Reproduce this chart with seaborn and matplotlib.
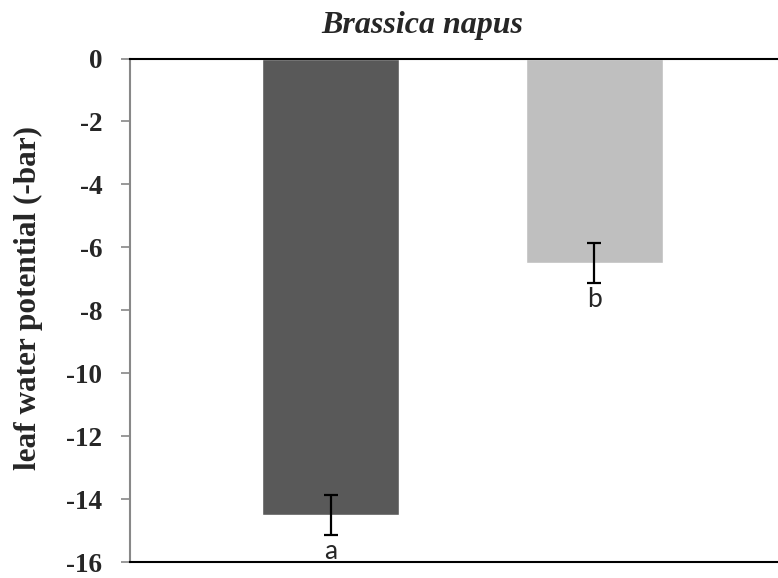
import matplotlib
matplotlib.use("Agg")
import matplotlib.pyplot as plt
import seaborn as sns
import pandas as pd

# Leaf water potential of Brassica napus under two conditions
conditions = ["condition 1", "condition 2"]
potential = [-14.5, -6.5]          # mean leaf water potential (-bar)
std_err = [0.63, 0.64]             # error bar half-lengths
letters = ["a", "b"]               # significance groups
bar_colors = ["#595959", "#bfbfbf"]
y_ticks = [0, -2, -4, -6, -8, -10, -12, -14, -16]

df = pd.DataFrame({"condition": conditions, "potential": potential})

sns.set_theme(style="white")
plt.rcParams["font.family"] = ["Liberation Serif", "DejaVu Serif"]

W, H = 778, 578
fig = plt.figure(figsize=(W / 100, H / 100), dpi=100)
ax = fig.add_axes([129.5 / W, (H - 562) / H, (W - 129.5) / W, (562 - 58.5) / H])

sns.barplot(data=df, x="condition", y="potential", hue="condition",
            palette=bar_colors, width=0.52, saturation=1, legend=False,
            ax=ax, zorder=2)

centers = [p.get_x() + p.get_width() / 2 for p in ax.patches]
ax.errorbar(centers, potential, yerr=std_err, fmt="none", ecolor="black",
            elinewidth=1.6, capsize=4.7, capthick=1.6, zorder=3)

for cx, val, err, lab in zip(centers, potential, std_err, letters):
    ax.annotate(lab, (cx, val - err), xytext=(0, -3), textcoords="offset points",
                ha="center", va="top", fontsize=19, family=["Lato", "DejaVu Sans"])

ax.set_xlim(-0.763, 1.698)
ax.set_ylim(-16, 0)
ax.set_yticks(y_ticks)
ax.set_yticklabels([str(t) for t in y_ticks], fontsize=19.5, fontweight="bold")
ax.set_xticks([])
ax.set_xlabel("")
ax.set_ylabel("leaf water potential (-bar)", fontsize=22.5, fontweight="bold",
              va="center")
ax.yaxis.set_label_coords((28 - 129.5) / (W - 129.5), (562 - 298) / (562 - 58.5))

ax.tick_params(axis="y", direction="out", length=6.5, width=1.2,
               color="#888888", pad=13, left=True)

ax.spines["right"].set_visible(False)
ax.spines["left"].set_color("#888888")
ax.spines["left"].set_linewidth(1.5)
ax.spines["top"].set_color("black")
ax.spines["top"].set_linewidth(1.5)
ax.spines["bottom"].set_color("black")
ax.spines["bottom"].set_linewidth(1.5)

fig.text(422 / W, 1 - 33 / H, "Brassica napus", ha="center", va="baseline",
         fontsize=23, fontweight="bold", fontstyle="italic")

fig.savefig("out.png", dpi=100)
